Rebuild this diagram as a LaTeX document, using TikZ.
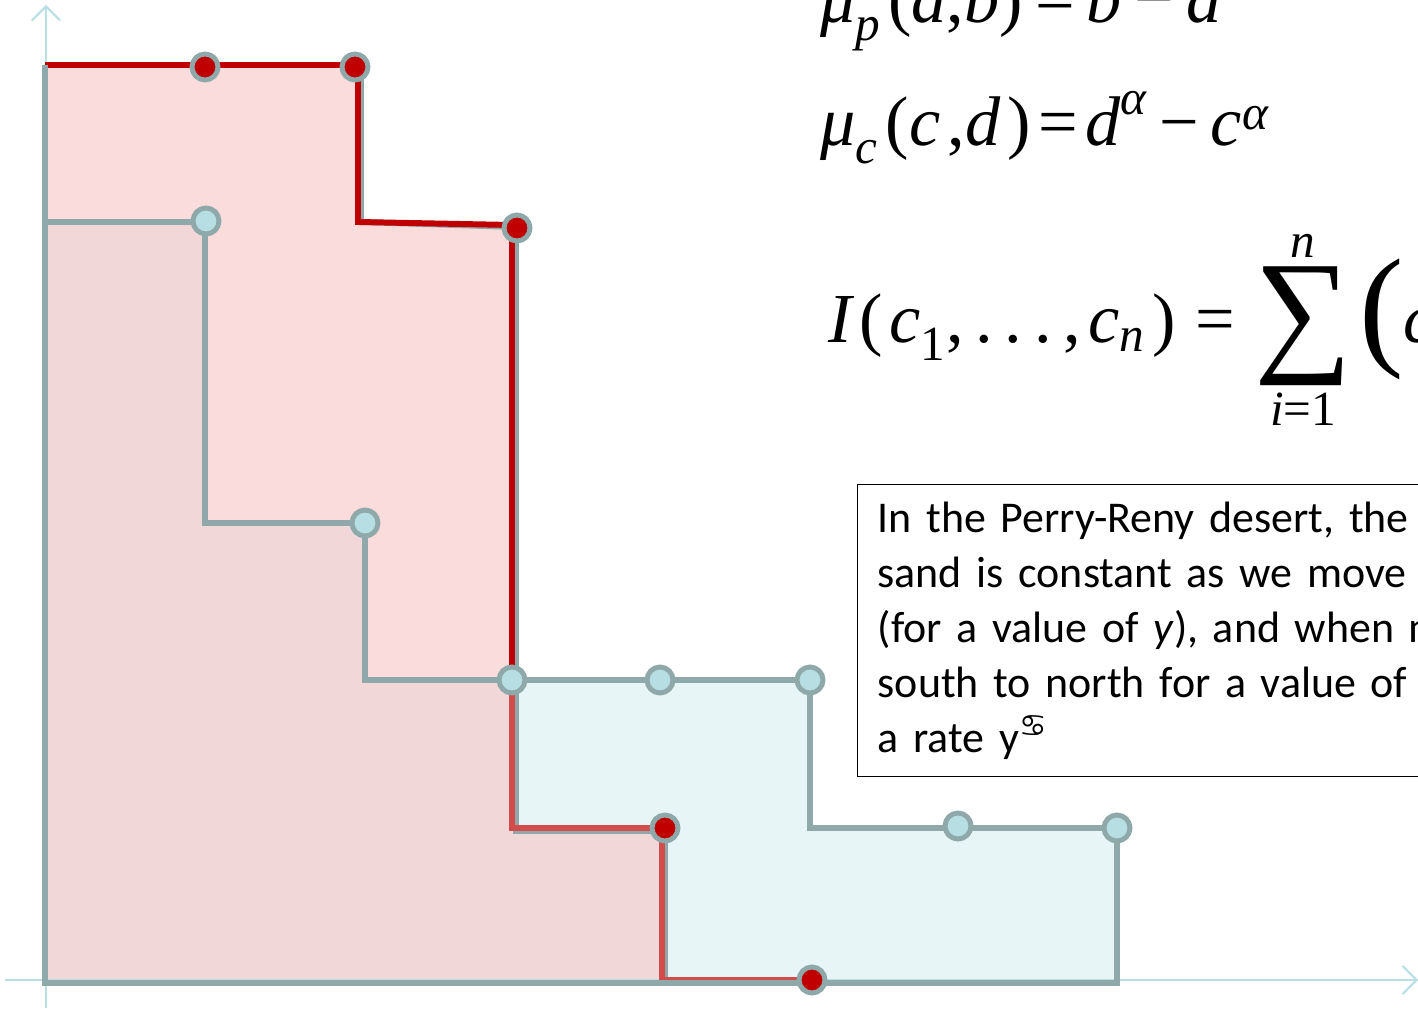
\documentclass[tikz,border=0pt]{standalone}
\usepackage{amsmath}
\usepackage{fontspec}
\newfontfamily\calibri{Carlito}
\newfontfamily\tnr{Liberation Serif}
\newfontfamily\symfont{DejaVu Sans}
\usetikzlibrary{positioning,arrows.meta}
\definecolor{ringgrey}{RGB}{143,169,171}
\definecolor{dotblue}{RGB}{183,222,226}
\definecolor{axisblue}{RGB}{185,222,228}
\definecolor{darkred}{RGB}{192,0,0}
\definecolor{pinkfill}{RGB}{247,196,196}
\definecolor{bluefill}{RGB}{232,245,247}

% pieces of the formulas in Times-like letters
\newcommand{\iv}[1]{\text{\tnr\itshape #1}}
\newcommand{\uv}[1]{\text{\tnr #1}}

\tikzset{
  knot/.style={circle, draw=ringgrey, line width=2.8pt, minimum size=0.52cm, inner sep=0pt, fill=dotblue},
  redknot/.style={knot, fill=darkred},
  edge/.style={draw=ringgrey, line width=3.4pt, line join=miter},
  axis/.style={draw=axisblue, line width=1.2pt, -{Straight Barb[length=8pt, width=16pt]}},
  formula/.style={anchor=base west, inner sep=0pt, font=\tnr\fontsize{40}{48}\selectfont}
}

\begin{document}
\begin{tikzpicture}[x=0.02cm, y=-0.02cm]
    \clip (0,0) rectangle (1418,1010);
    \useasboundingbox (0,0) rectangle (1418,1010);

    % corners of the two staircases
    \coordinate (b0) at (45,222);   \coordinate (b1) at (205,222);
    \coordinate (b2) at (205,523);  \coordinate (b3) at (365,523);
    \coordinate (b4) at (365,680);  \coordinate (b5) at (810,680);
    \coordinate (b6) at (810,828);  \coordinate (b7) at (1117,828);
    \coordinate (b8) at (1117,983); \coordinate (b9) at (45,983);
    \coordinate (r0) at (45,65);    \coordinate (r1) at (358,65);
    \coordinate (r2) at (358,222);  \coordinate (r3) at (512,225);
    \coordinate (r4) at (512,828);  \coordinate (r5) at (662,828);
    \coordinate (r6) at (662,980);  \coordinate (r7) at (812,980);
    \coordinate (rm) at (512,680);

    \fill[bluefill] (b0) -- (b1) -- (b2) -- (b3) -- (b4) -- (b5) -- (b6) -- (b7) -- (b8) -- (b9) -- cycle;
    \fill[pinkfill, opacity=0.6] (r0) -- (r1) -- (r2) -- (r3) -- (r4) -- (r5) -- (r6) -- (b9) -- cycle;

    % axes
    \coordinate (ybot) at (46,1008); \coordinate (ytop) at (46,5);
    \coordinate (xleft) at (5,980);  \coordinate (xright) at (1418,980);
    \draw[axis] (ybot) -- (ytop);
    \draw[axis] (xleft) -- (xright);

    \draw[edge] (r0) -- (361,65) -- (361,222) -- (516,227) -- (516,831) -- (665,831) -- (665,983);
    \draw[darkred, line width=3.4pt] (r0) -- (r1) -- (r2) -- (r3) -- (rm);
    \draw[darkred!70, line width=3.4pt] (rm) -- (r4) -- (r5) -- (r6) -- (r7);

    \draw[edge] (r0) -- (b9) -- (b8) -- (b7) -- (b6) -- (b5) -- (b4) -- (b3) -- (b2) -- (b1) -- (b0);

    % break points
    \node[redknot] (p1) at (205,67) {};
    \node[redknot] (p2) at (355,67) {};
    \node[redknot] (p3) at (517,228) {};
    \node[redknot] (p4) at (665,828) {};
    \node[redknot] (p5) at (812,980) {};
    \node[knot] (q1) at (206,221) {};
    \node[knot] (q2) at (365,523) {};
    \node[knot] (q3) at (512,680) {};
    \node[knot] (q4) at (660,680) {};
    \node[knot] (q5) at (810,680) {};
    \node[knot] (q6) at (958,826) {};
    \node[knot] (q7) at (1117,828) {};

    % formulas
    \node[formula] (mup) at (820,23)
      {$\iv{μ}_{\iv{p}}\,\uv{(}\iv{a}\uv{,}\iv{b}\uv{)}\;\uv{=}\;\iv{b}\;\uv{−}\;\iv{a}$};
    \node[formula] (muc) at (820,146)
      {$\iv{μ}_{\iv{c}}\,\uv{(}\iv{c}\,\uv{,}\iv{d}\,\uv{)}\,\uv{=}\,\iv{d}^{\iv{α}}\;\uv{−}\;\iv{c}^{\iv{α}}$};
    \node[formula] (integral) at (828,343)
      {$\displaystyle\iv{I}\,\uv{(}\,\iv{c}_{\uv{1}}\uv{,\,.\,.\,.\,,}\,\iv{c}_{\iv{n}}\,\uv{)}\;\,\uv{=}\;
        \mathop{\raisebox{-0.19em}{\fontsize{78}{78}\selectfont ∑}}\limits^{\iv{n}}_{\iv{i}\uv{=1}}
        \raisebox{-0.12em}{\fontsize{76}{76}\selectfont (}\iv{c}_{\iv{i}}$};

    % the note
    \node[draw, line width=0.8pt, anchor=north west, text width=12cm, minimum height=5.84cm, inner xsep=0.4cm, inner ysep=0.35cm, align=left, font=\calibri\fontsize{25}{31.2}\selectfont] (note) at (857,484)
      {In the Perry-Reny desert, the\\
       sand is constant as we move h\\
       (for a value of \textit{y}), and when m\\
       south to north for a value of \textit{x}\\
       a rate y\textsuperscript{\symfont ♋}};
\end{tikzpicture}
\end{document}
